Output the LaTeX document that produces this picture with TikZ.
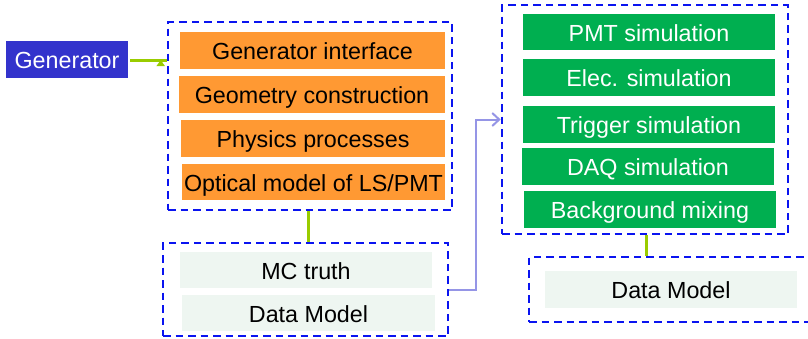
\documentclass[tikz,border=0pt]{standalone}
\usepackage{fontspec}
\setmainfont{Liberation Sans}
\usetikzlibrary{arrows.meta}
\definecolor{genblue}{HTML}{3333CC}
\definecolor{boxorange}{HTML}{FF9933}
\definecolor{boxgreen}{HTML}{00AF50}
\definecolor{mint}{HTML}{EEF6F1}
\definecolor{dashblue}{HTML}{0A14F0}
\definecolor{limegreen}{HTML}{99CC00}
\definecolor{lavender}{HTML}{9595E6}
\tikzset{
  txt/.style={inner sep=0pt, font=\fontsize{23.3}{28}\selectfont, text height=18pt, text depth=0pt},
  obox/.style={txt, fill=boxorange, text=black},
  gbox/.style={txt, fill=boxgreen, text=white},
  mbox/.style={txt, fill=mint, text=black},
  genbox/.style={txt, fill=genblue, text=white},
  dbox/.style={draw=dashblue, line width=2.6pt, dash pattern=on 7.5pt off 5pt, inner sep=0pt},
  limeline/.style={draw=limegreen, line width=3pt},
  purpleline/.style={draw=lavender, line width=2pt}
}
\begin{document}
\begin{tikzpicture}[x=1pt,y=-1pt]
\clip (0,0) rectangle (808,338);
\fill[white] (0,0) rectangle (808,338);
% dashed containers
\node[dbox, minimum width=284pt, minimum height=188pt] (leftbox) at (310,116) {};
\node[dbox, minimum width=285pt, minimum height=93pt] (mcbox) at (305.5,289.5) {};
\node[dbox, minimum width=286pt, minimum height=229pt] (simbox) at (645,119.5) {};
\node[dbox, minimum width=286pt, minimum height=65pt] (dmbox) at (672,289.5) {};
% generator
\node[genbox, minimum width=122pt, minimum height=37pt] (gen) at (67,59.5) {Generator};
% orange boxes
\node[obox, minimum width=265pt, minimum height=37pt] (gi) at (312.5,50.5) {Generator interface};
\node[obox, minimum width=266pt, minimum height=37pt] (gc) at (312,94.5) {Geometry construction};
\node[obox, minimum width=264pt, minimum height=37pt] (pp) at (313,138.5) {Physics processes};
\node[obox, minimum width=263pt, minimum height=36pt] (om) at (313.5,182) {Optical model of LS/PMT};
% mint boxes
\node[mbox, minimum width=252pt, minimum height=36pt] (mc) at (306,270) {MC truth};
\node[mbox, minimum width=253pt, minimum height=36pt] (dm1) at (308.5,313) {Data Model};
\node[mbox, minimum width=252pt, minimum height=37pt] (dm2) at (671,289.5) {Data Model};
% green boxes
\node[gbox, minimum width=252pt, minimum height=36pt] (pmt) at (649,32) {PMT simulation};
\node[gbox, minimum width=252pt, minimum height=37pt] (elec) at (649,77.5) {Elec. simulation};
\node[gbox, minimum width=252pt, minimum height=37pt] (trig) at (649,124.5) {Trigger simulation};
\node[gbox, minimum width=252pt, minimum height=37pt] (daq) at (648,166.5) {DAQ simulation};
\node[gbox, minimum width=252pt, minimum height=37pt] (bg) at (650,209.5) {Background mixing};
% connectors
\draw[limeline, -{Triangle[length=6pt,width=8pt]}] (gen.east) ++(2,0.5) coordinate (ga) -- (ga -| leftbox.west) ++(-6,0) coordinate (gb);
\draw[limeline] (leftbox.south) ++(-2,0) coordinate (la) -- (la |- mcbox.north);
\draw[limeline] (simbox.south) ++(1,0) coordinate (sa) -- (sa |- dmbox.north);
\draw[purpleline, -{Straight Barb[length=7pt,width=13pt]}] (mcbox.east) -- ++(27,0) |- (simbox.west);
\end{tikzpicture}
\end{document}
